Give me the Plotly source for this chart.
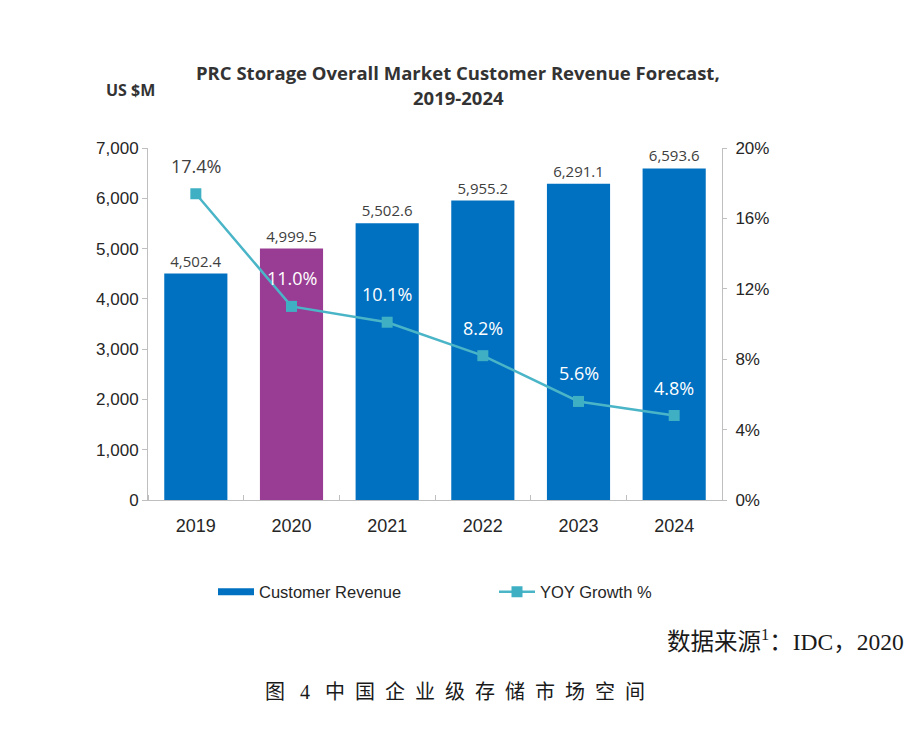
import plotly.graph_objects as go

years = [2019, 2020, 2021, 2022, 2023, 2024]
year_labels = ["2019", "2020", "2021", "2022", "2023", "2024"]
revenue = [4502.4, 4999.5, 5502.6, 5955.2, 6291.1, 6593.6]
growth = [17.4, 11.0, 10.1, 8.2, 5.6, 4.8]
bar_colors = ["#0070C0", "#993D94", "#0070C0", "#0070C0", "#0070C0", "#0070C0"]
growth_label_colors = ["#404040", "#FFFFFF", "#FFFFFF", "#FFFFFF", "#FFFFFF", "#FFFFFF"]
left_ticks = [0, 1000, 2000, 3000, 4000, 5000, 6000, 7000]
right_ticks = [0, 4, 8, 12, 16, 20]
right_labels = ["0%", "4%", "8%", "12%", "16%", "20%"]

AXIS = "#BFBFBF"
TXT = "#262626"

fig = go.Figure()
fig.add_trace(go.Bar(
    x=years, y=revenue, marker=dict(color=bar_colors, line=dict(width=0)),
    texttemplate="%{y:,.1f}", textposition="outside",
    textfont=dict(family="Open Sans", size=15, color="#404040"),
    cliponaxis=False, showlegend=False, hoverinfo="skip"))
# legend entry for the bars (drawn as a thick line swatch like the reference)
fig.add_trace(go.Scatter(
    x=[None], y=[None], mode="lines", name="Customer Revenue",
    line=dict(color="#0070C0", width=7), legend="legend"))
fig.add_trace(go.Scatter(
    x=years, y=growth, yaxis="y2", mode="lines+markers", name="YOY Growth %",
    line=dict(color="#4BB5C8", width=2.5),
    marker=dict(symbol="square", size=11, color="#3FB0C4"),
    cliponaxis=False, legend="legend2"))

def px_x(x):
    return (x - 148) / (922 - 148 - 200)

def px_y(y):
    return (500 - y) / (500 - 148)

annotations = []
for yr, g, c in zip(years, growth, growth_label_colors):
    annotations.append(dict(
        x=yr, y=g, xref="x", yref="y2", text=f"{g:.1f}%", showarrow=False,
        yshift=28, font=dict(family="Open Sans", size=18, color=c)))

annotations += [
    dict(text="<b>PRC Storage Overall Market Customer Revenue Forecast,</b>",
         x=px_x(458), y=px_y(72), xref="paper", yref="paper", showarrow=False,
         xanchor="center", yanchor="middle",
         font=dict(family="Open Sans", size=18.5, color="#333333")),
    dict(text="<b>2019-2024</b>",
         x=px_x(458), y=px_y(97), xref="paper", yref="paper", showarrow=False,
         xanchor="center", yanchor="middle",
         font=dict(family="Open Sans", size=18.5, color="#333333")),
    dict(text="<b>US $M</b>",
         x=px_x(104), y=px_y(90), xref="paper", yref="paper", showarrow=False,
         xanchor="left", yanchor="middle",
         font=dict(family="Open Sans", size=16, color="#333333")),
    dict(text="数据来源<sup>1</sup>：IDC，2020",
         x=px_x(906), y=px_y(640), xref="paper", yref="paper", showarrow=False,
         xanchor="right", yanchor="middle",
         font=dict(family="Liberation Serif, Noto Sans CJK SC", size=23.5, color="#1a1a1a")),
    dict(text="图\u2002 4\u2002 中\u2002国\u2002企\u2002业\u2002级\u2002存\u2002储\u2002市\u2002场\u2002空\u2002间",
         x=px_x(455), y=px_y(692), xref="paper", yref="paper", showarrow=False,
         xanchor="center", yanchor="middle",
         font=dict(family="Liberation Serif, Noto Sans CJK SC", size=20, color="#1a1a1a")),
]

legend_style = dict(orientation="h", xanchor="left", yref="container",
                    y=(729 - 592) / 729, yanchor="middle", xref="container",
                    font=dict(family="Liberation Sans", size=16.5, color=TXT),
                    itemwidth=36, bgcolor="rgba(0,0,0,0)")

fig.update_layout(
    width=922, height=729,
    margin=dict(l=148, r=200, t=148, b=229),
    paper_bgcolor="white", plot_bgcolor="white",
    bargap=0.34,
    showlegend=True,
    legend=dict(x=213 / 922, **legend_style),
    legend2=dict(x=494 / 922, **legend_style),
    xaxis=dict(range=[2018.5, 2024.5], tickvals=years, ticktext=year_labels,
               showline=True, linecolor=AXIS, linewidth=1,
               ticks="outside", ticklen=9, tickcolor="rgba(0,0,0,0)",
               showgrid=False, zeroline=False,
               tickfont=dict(family="Liberation Sans", size=18, color=TXT),
               minor=dict(tick0=2018.5, dtick=1, ticks="inside", ticklen=5,
                          tickcolor=AXIS, showgrid=False)),
    yaxis=dict(range=[0, 7000], tickvals=left_ticks, tickformat=",",
               showline=True, linecolor=AXIS, linewidth=1,
               ticks="outside", ticklen=5, tickcolor=AXIS,
               tickfont=dict(family="Liberation Sans", size=17, color=TXT),
               showgrid=False, zeroline=False),
    yaxis2=dict(overlaying="y", side="right", range=[0, 20], tickvals=right_ticks,
                ticktext=right_labels, showline=True, linecolor=AXIS, linewidth=1,
                ticks="outside", ticklen=4, tickcolor=AXIS,
                tickfont=dict(family="Liberation Sans", size=17, color=TXT),
                ticklabelstandoff=5,
                showgrid=False, zeroline=False),
    annotations=annotations,
)

fig.write_html("out.html")
